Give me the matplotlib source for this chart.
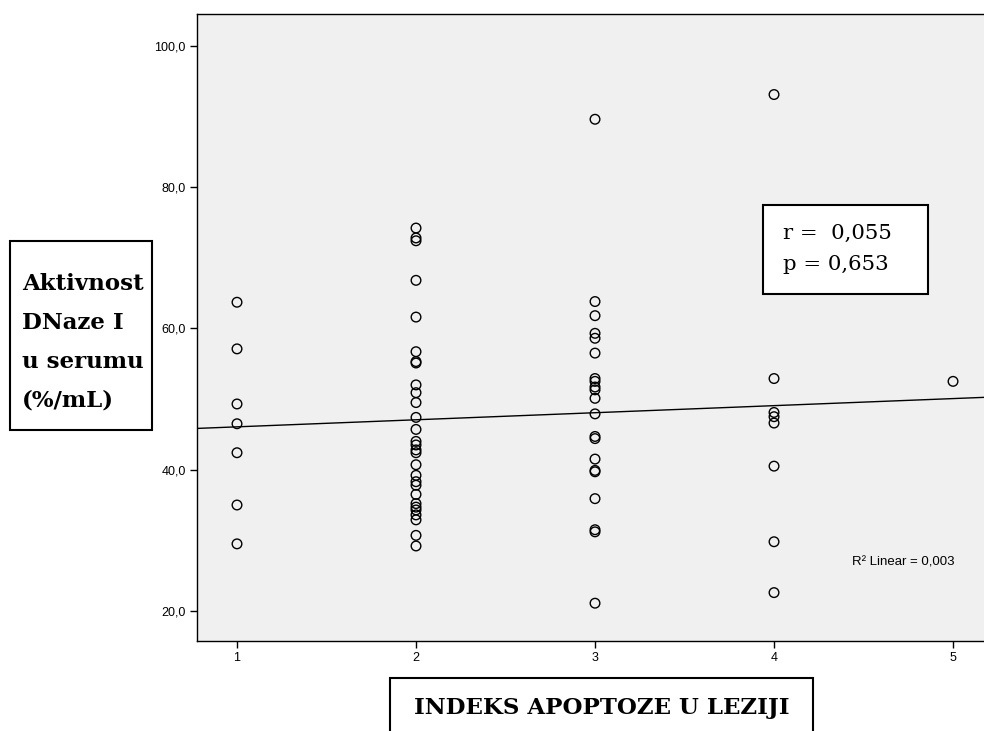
import matplotlib.pyplot as plt
import numpy as np
from matplotlib.patches import Rectangle
from matplotlib.ticker import FuncFormatter

# apoptosis index groups and DNase I activity (%/mL)
idx_1 = [63.7, 57.1, 49.3, 46.5, 42.4, 35.0, 29.5]
idx_2 = [74.2, 72.8, 72.4, 66.8, 61.6, 56.7, 55.3, 55.1, 52.0, 50.9, 49.5,
         47.4, 45.7, 44.0, 43.5, 42.8, 42.4, 40.7, 39.2, 38.3, 37.8, 36.5,
         35.2, 34.7, 34.3, 33.6, 32.9, 30.7, 29.2]
idx_3 = [89.6, 63.8, 61.8, 59.3, 58.6, 56.5, 52.9, 52.5, 51.7, 51.3, 50.1,
         47.9, 44.7, 44.4, 41.5, 39.9, 39.7, 35.9, 31.5, 31.2, 21.1]
idx_4 = [93.1, 52.9, 48.1, 47.5, 46.6, 40.5, 29.8, 22.6]
idx_5 = [52.5]

groups = [idx_1, idx_2, idx_3, idx_4, idx_5]
x = np.concatenate([[i + 1] * len(g) for i, g in enumerate(groups)])
y = np.concatenate(groups)

fig = plt.figure(figsize=(9.84, 7.31), dpi=100)
ax = fig.add_axes([197 / 984, 1 - 641 / 731, 1 - 197 / 984, (641 - 14) / 731])
ax.set_facecolor('#f0f0f0')

ax.scatter(x, y, s=48, facecolors='none', edgecolors='black', linewidths=1.0, zorder=3)

# linear fit line across the whole axis
slope, intercept = np.polyfit(x, y, 1)
xl = np.array([0.7, 5.3])
ax.plot(xl, intercept + slope * xl, color='black', lw=1.0, zorder=2)

ax.set_xlim(0.7765, 5.173)
ax.set_ylim(15.75, 104.5)
ax.set_xticks([1, 2, 3, 4, 5])
ax.set_yticks([20, 40, 60, 80, 100])
ax.yaxis.set_major_formatter(FuncFormatter(lambda v, p: '{:.1f}'.format(v).replace('.', ',')))
for lab in ax.get_xticklabels() + ax.get_yticklabels():
    lab.set_fontfamily('Liberation Sans')
    lab.set_fontsize(9)
ax.tick_params(direction='out', length=5, width=1, pad=3)
for s in ax.spines.values():
    s.set_linewidth(1.0)
ax.spines['right'].set_visible(False)

ax.text(0.963, 0.125, 'R² Linear = 0,003', transform=ax.transAxes,
        ha='right', va='center', fontsize=9.5, family='Liberation Sans')

# r / p box
fig.patches.append(Rectangle((763 / 984, 1 - 294 / 731), 165 / 984, 89 / 731,
                             transform=fig.transFigure, facecolor='white',
                             edgecolor='black', lw=1.5, zorder=5))
fig.text(783 / 984, 1 - 233 / 731, 'r =  0,055', fontsize=15.3, family='DejaVu Serif',
         va='center', ha='left', zorder=6)
fig.text(783 / 984, 1 - 265 / 731, 'p = 0,653', fontsize=15.3, family='DejaVu Serif',
         va='center', ha='left', zorder=6)

# y-label box
fig.patches.append(Rectangle((10 / 984, 1 - 430 / 731), 142 / 984, 189 / 731,
                             transform=fig.transFigure, facecolor='white',
                             edgecolor='black', lw=1.5))
for i, line in enumerate(['Aktivnost', 'DNaze I', 'u serumu', '(%/mL)']):
    fig.text(22 / 984, 1 - (284 + 39 * i) / 731, line, fontsize=16.5, weight='bold',
             family='DejaVu Serif', va='center', ha='left')

# x-label box
fig.patches.append(Rectangle((390 / 984, -0.02), 423 / 984, (731 - 678) / 731 + 0.02,
                             transform=fig.transFigure, facecolor='white',
                             edgecolor='black', lw=1.5))
fig.text(602 / 984, 1 - 708 / 731, 'INDEKS APOPTOZE U LEZIJI', fontsize=16.5, weight='bold',
         family='DejaVu Serif', va='center', ha='center')

fig.savefig('out.png', dpi=100)
